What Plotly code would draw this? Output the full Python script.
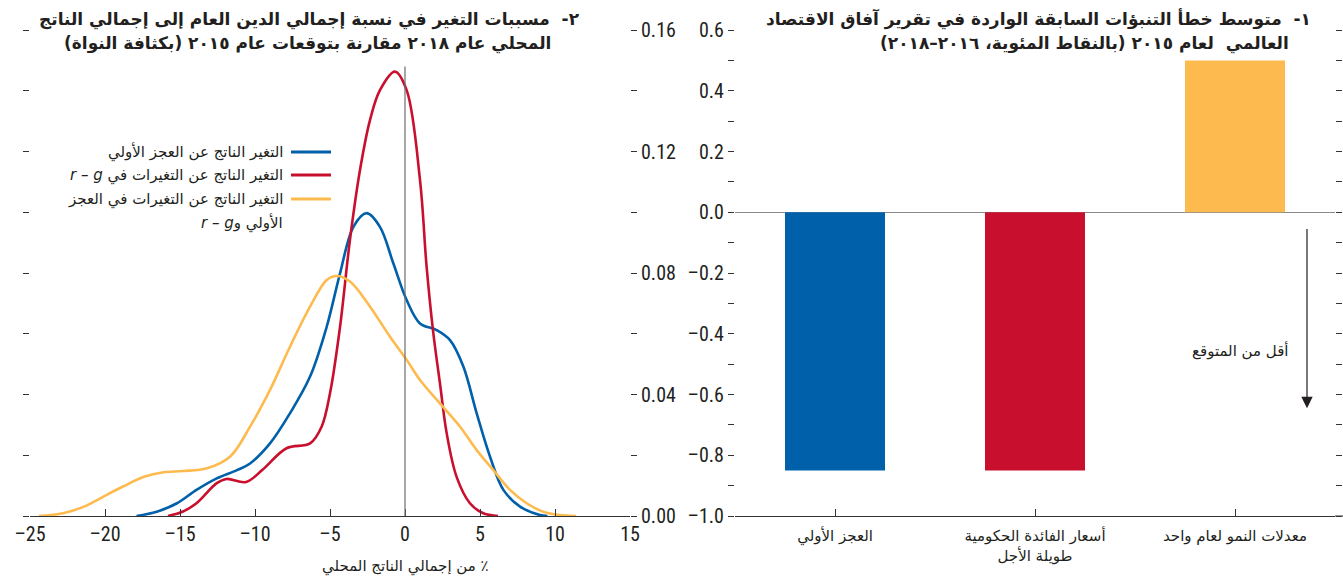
import plotly.graph_objects as go

# ---------------- Panel 2: kernel densities ----------------
primary_x = [-17.9, -16.55, -15.2, -13.9, -12.55, -11.2, -10.33, -9.0, -7.67, -6.33, -5.22, -4.33,
             -3.44, -2.56, -1.67, -0.78, 0.11, 1.0, 2.11, 3.0, 3.89, 4.78, 5.67, 6.56, 7.67, 9.0, 9.5]
primary_y = [0.0, 0.0014, 0.0042, 0.0086, 0.0124, 0.0151, 0.0173, 0.0239, 0.0338, 0.0459, 0.0623, 0.0799,
             0.0952, 0.0997, 0.0952, 0.0832, 0.0711, 0.0634, 0.0612, 0.0579, 0.0492, 0.0338, 0.0195, 0.0086,
             0.0031, 0.0003, 0.0]

rg_x = [-15.8, -14.8, -13.9, -12.55, -11.9, -10.6, -9.5, -7.9, -6.33, -5.56, -5.0, -4.33, -3.67, -3.0,
        -2.33, -1.67, -0.67, 0.11, 1.0, 1.44, 1.89, 2.33, 2.78, 3.44, 4.33, 5.22, 6.2]
rg_y = [0.0, 0.0015, 0.0042, 0.0108, 0.0122, 0.0112, 0.0152, 0.0223, 0.0239, 0.0294, 0.0404, 0.0623,
        0.0909, 0.1139, 0.1304, 0.1402, 0.1463, 0.1402, 0.1106, 0.0821, 0.0601, 0.0437, 0.0272, 0.0129,
        0.0042, 0.0009, 0.0]

both_x = [-24.4, -22.8, -21.4, -20.1, -18.8, -17.4, -16.1, -14.8, -13.2, -11.67, -10.33, -9.0, -7.67,
          -6.33, -5.22, -4.56, -3.67, -2.33, -1.0, 0.11, 1.0, 2.33, 3.67, 4.78, 5.89, 7.0, 8.11, 9.22,
          10.3, 11.4]
both_y = [0.0, 0.0009, 0.0031, 0.0064, 0.0097, 0.0129, 0.0144, 0.0148, 0.0157, 0.0195, 0.0294, 0.0415,
          0.0557, 0.0689, 0.0777, 0.0790, 0.0772, 0.0689, 0.0590, 0.0514, 0.0448, 0.0371, 0.0294, 0.0217,
          0.0151, 0.0086, 0.0042, 0.0014, 0.0003, 0.0]

density_names = [["التغير الناتج عن العجز الأولي"],
                 ["التغير الناتج عن التغيرات في <i>r – g</i>"],
                 ["التغير الناتج عن التغيرات في العجز", "الأولي و<i>r – g</i>"]]

x2_tickvals = [-25, -20, -15, -10, -5, 0, 5, 10, 15]
x2_ticktext = ["–25", "–20", "–15", "–10", "–5", "0", "5", "10", "15"]
y2_tickvals = [0.0, 0.02, 0.04, 0.06, 0.08, 0.10, 0.12, 0.14, 0.16]
y2_ticktext = ["0.00", "", "0.04", "", "0.08", "", "0.12", "", "0.16"]

# ---------------- Panel 1: forecast errors ----------------
bar_categories = ["العجز الأولي", "أسعار الفائدة الحكومية<br>طويلة الأجل", "معدلات النمو لعام واحد"]
bar_values = [-0.85, -0.85, 0.50]

y1_tickvals = [0.6, 0.5, 0.4, 0.3, 0.2, 0.1, 0.0, -0.1, -0.2, -0.3, -0.4, -0.5, -0.6, -0.7, -0.8, -0.9, -1.0]
y1_ticktext = ["0.6", "", "0.4", "", "0.2", "", "0.0", "", "–0.2", "", "–0.4", "", "–0.6", "", "–0.8", "", "–1.0"]

BLUE = "#0060AA"
RED = "#C8102E"
YELLOW = "#FDBB4F"
bar_colors = [BLUE, RED, YELLOW]
density_colors = [BLUE, RED, YELLOW]

NUM_FONT = "Liberation Sans Narrow, Roboto Condensed, Liberation Sans, Arial"
AR_FONT = "DejaVu Sans, Noto Sans, sans-serif"
TXT = "#231F20"
NUM_SIZE = 20

RLE, PDF = "\u202b", "\u202c"


def rtl(s):
    return "<br>".join(RLE + part + PDF for part in s.split("<br>"))


W, H = 1343, 583


def px(x):
    return x / W


def py(y):
    return 1 - y / H


fig = go.Figure()

for xs, ys, col in zip([primary_x, rg_x, both_x], [primary_y, rg_y, both_y], density_colors):
    fig.add_trace(go.Scatter(x=xs, y=ys, mode="lines", line=dict(color=col, width=2.6, shape="spline", smoothing=1.0),
                             xaxis="x", yaxis="y", showlegend=False, hoverinfo="skip"))

fig.add_trace(go.Bar(x=bar_categories, y=bar_values, marker=dict(color=bar_colors, line=dict(width=0)),
                     width=0.5, xaxis="x2", yaxis="y2", showlegend=False, hoverinfo="skip"))

dom_y = [py(516), py(30)]

fig.update_layout(
    width=W, height=H,
    margin=dict(l=0, r=0, t=0, b=0, pad=0, autoexpand=False),
    paper_bgcolor="white", plot_bgcolor="white",
    font=dict(family=NUM_FONT, size=NUM_SIZE, color=TXT),
    xaxis=dict(domain=[px(30), px(630)], range=[-25, 15], tickvals=x2_tickvals, ticktext=x2_ticktext,
               ticks="inside", ticklen=7, tickcolor="#333", showline=True, linecolor="#333", linewidth=1,
               showgrid=False, zeroline=False, anchor="y", automargin=False,
               tickfont=dict(family=NUM_FONT, size=NUM_SIZE, color=TXT)),
    yaxis=dict(domain=dom_y, range=[0, 0.16], side="right", tickvals=y2_tickvals, ticktext=y2_ticktext,
               ticks="outside", ticklen=6, tickcolor="#333", mirror="ticks", showline=False,
               showgrid=False, zeroline=False, anchor="x", automargin=False,
               tickfont=dict(family=NUM_FONT, size=NUM_SIZE, color=TXT)),
    xaxis2=dict(domain=[px(735), px(1335)], range=[-0.5, 2.5], type="category",
                ticks="inside", ticklen=7, tickcolor="#333", showline=True, linecolor="#333", linewidth=1,
                showgrid=False, zeroline=False, anchor="y2", ticklabelstandoff=6, automargin=False,
                tickfont=dict(family=AR_FONT, size=15, color=TXT)),
    yaxis2=dict(domain=dom_y, range=[-1.0, 0.6], side="left", tickvals=y1_tickvals, ticktext=y1_ticktext,
                ticks="outside", ticklen=6, tickcolor="#333", mirror="ticks", showline=False,
                showgrid=False, zeroline=True, zerolinecolor="#8a8a8a", zerolinewidth=1.5, anchor="x2",
                automargin=False, tickfont=dict(family=NUM_FONT, size=NUM_SIZE, color=TXT)),
    bargap=0.5,
)

# vertical reference line at 0 in panel 2
fig.add_shape(type="line", xref="x", yref="y", x0=0, x1=0, y0=0, y1=0.148, line=dict(color="#6d6d6d", width=1.2))
# bottom axis line of panel 1 extends to the right edge
fig.add_shape(type="line", xref="paper", yref="paper", x0=px(1335), x1=1, y0=py(516), y1=py(516),
              line=dict(color="#333", width=1))

annotations = []

TITLE_SIZE = 17
# Titles
annotations.append(dict(x=px(1313), y=py(19), xref="paper", yref="paper", xanchor="right", yanchor="middle",
                        text="<b>" + rtl("١-  متوسط خطأ التنبؤات السابقة الواردة في تقرير آفاق الاقتصاد") + "</b>",
                        showarrow=False, font=dict(family=AR_FONT, size=TITLE_SIZE, color=TXT)))
annotations.append(dict(x=px(1291), y=py(44), xref="paper", yref="paper", xanchor="right", yanchor="middle",
                        text="<b>" + rtl("العالمي  لعام ٢٠١٥ (بالنقاط المئوية، ٢٠١٦–٢٠١٨)") + "</b>",
                        showarrow=False, font=dict(family=AR_FONT, size=TITLE_SIZE, color=TXT)))
annotations.append(dict(x=px(582), y=py(19), xref="paper", yref="paper", xanchor="right", yanchor="middle",
                        text="<b>" + rtl("٢-  مسببات التغير في نسبة إجمالي الدين العام إلى إجمالي الناتج") + "</b>",
                        showarrow=False, font=dict(family=AR_FONT, size=TITLE_SIZE, color=TXT)))
annotations.append(dict(x=px(553), y=py(44), xref="paper", yref="paper", xanchor="right", yanchor="middle",
                        text="<b>" + rtl("المحلي عام ٢٠١٨ مقارنة بتوقعات عام ٢٠١٥ (بكثافة النواة)") + "</b>",
                        showarrow=False, font=dict(family=AR_FONT, size=TITLE_SIZE, color=TXT)))

# x-axis title for panel 2
annotations.append(dict(x=0, y=py(566), xref="x", yref="paper", xanchor="center", yanchor="middle",
                        text=rtl("٪ من إجمالي الناتج المحلي"), showarrow=False,
                        font=dict(family=AR_FONT, size=15, color=TXT)))

# Manual right-to-left legend for panel 2
leg_rows = [152, 175, 199]
for lines, col, yy in zip(density_names, density_colors, leg_rows):
    fig.add_shape(type="line", xref="paper", yref="paper", x0=px(291), x1=px(331), y0=py(yy), y1=py(yy),
                  line=dict(color=col, width=3))
    for k, line in enumerate(lines):
        annotations.append(dict(x=px(285), y=py(yy + 23.5 * k), xref="paper", yref="paper",
                                xanchor="right", yanchor="middle",
                                text=rtl(line), showarrow=False,
                                font=dict(family=AR_FONT, size=15, color=TXT)))

# Arrow "less than expected"
annotations.append(dict(x=2.36, y=-0.645, xref="x2", yref="y2", ax=2.36, ay=-0.05, axref="x2", ayref="y2",
                        showarrow=True, arrowhead=2, arrowsize=1.9, arrowwidth=1.2, arrowcolor="#231F20", text=""))
annotations.append(dict(x=2.28, y=-0.455, xref="x2", yref="y2", xanchor="right", yanchor="middle",
                        text=rtl("أقل من المتوقع"), showarrow=False, font=dict(family=AR_FONT, size=15, color=TXT)))

fig.update_layout(annotations=annotations)

fig.write_html("out.html", config={"displayModeBar": False, "staticPlot": True},
               post_script="document.body.style.margin='0px';")
